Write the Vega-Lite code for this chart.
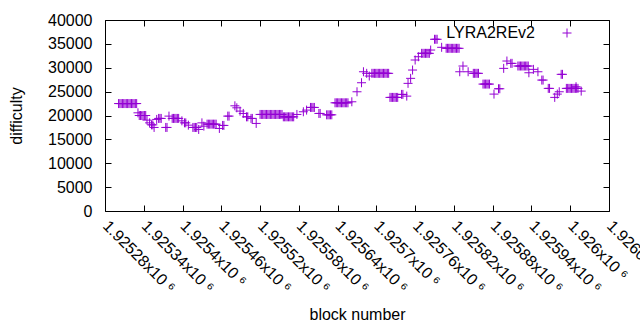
{
  "$schema": "https://vega.github.io/schema/vega-lite/v6.json",
  "width": 504,
  "height": 191,
  "autosize": {"type": "none"},
  "padding": {"left": 105, "top": 20, "right": 31, "bottom": 119},
  "background": "white",
  "config": {
    "font": "Liberation Sans",
    "view": {"stroke": "black", "strokeWidth": 1},
    "axis": {"grid": false, "domain": false, "tickColor": "black", "labelColor": "black", "titleColor": "black", "labelFontSize": 16, "titleFontSize": 16, "titleFontWeight": "normal", "labelFont": "Liberation Sans", "titleFont": "Liberation Sans", "tickSize": -6, "tickWidth": 1}
  },
  "data": {"values": [
    {"block": 1925301, "difficulty": 22500}, {"block": 1925303, "difficulty": 22500}, {"block": 1925305, "difficulty": 22500}, {"block": 1925307, "difficulty": 22500}, {"block": 1925309, "difficulty": 22500}, {"block": 1925311, "difficulty": 22500}, {"block": 1925313, "difficulty": 22500}, {"block": 1925315, "difficulty": 22500}, {"block": 1925317, "difficulty": 22500}, {"block": 1925319, "difficulty": 22500}, {"block": 1925321, "difficulty": 22500}, {"block": 1925323, "difficulty": 22500}, {"block": 1925325, "difficulty": 22500}, {"block": 1925327, "difficulty": 22500}, {"block": 1925329, "difficulty": 22500},
    {"block": 1925331, "difficulty": 20560},
    {"block": 1925333, "difficulty": 20000}, {"block": 1925335, "difficulty": 20000}, {"block": 1925337, "difficulty": 20000}, {"block": 1925339, "difficulty": 20000}, {"block": 1925341, "difficulty": 20000}, {"block": 1925343, "difficulty": 20000},
    {"block": 1925345, "difficulty": 19030},
    {"block": 1925349, "difficulty": 18460},
    {"block": 1925352, "difficulty": 18040}, {"block": 1925354, "difficulty": 18040},
    {"block": 1925356, "difficulty": 17500},
    {"block": 1925360, "difficulty": 19180},
    {"block": 1925363, "difficulty": 19390}, {"block": 1925365, "difficulty": 19390}, {"block": 1925367, "difficulty": 19390},
    {"block": 1925374, "difficulty": 17500}, {"block": 1925376, "difficulty": 17500},
    {"block": 1925379, "difficulty": 19870},
    {"block": 1925384, "difficulty": 19390}, {"block": 1925386, "difficulty": 19390}, {"block": 1925388, "difficulty": 19390}, {"block": 1925390, "difficulty": 19390}, {"block": 1925392, "difficulty": 19390}, {"block": 1925394, "difficulty": 19390},
    {"block": 1925399, "difficulty": 18880},
    {"block": 1925403, "difficulty": 18460}, {"block": 1925405, "difficulty": 18460},
    {"block": 1925409, "difficulty": 17980},
    {"block": 1925416, "difficulty": 17500}, {"block": 1925418, "difficulty": 17500}, {"block": 1925420, "difficulty": 17500}, {"block": 1925422, "difficulty": 17500},
    {"block": 1925425, "difficulty": 17080},
    {"block": 1925430, "difficulty": 18460},
    {"block": 1925433, "difficulty": 17770},
    {"block": 1925438, "difficulty": 18190}, {"block": 1925440, "difficulty": 18190}, {"block": 1925442, "difficulty": 18190}, {"block": 1925444, "difficulty": 18190}, {"block": 1925446, "difficulty": 18190}, {"block": 1925448, "difficulty": 18190}, {"block": 1925450, "difficulty": 18190}, {"block": 1925452, "difficulty": 18190},
    {"block": 1925457, "difficulty": 17290},
    {"block": 1925462, "difficulty": 17920}, {"block": 1925464, "difficulty": 17920},
    {"block": 1925470, "difficulty": 19870}, {"block": 1925472, "difficulty": 19870},
    {"block": 1925481, "difficulty": 22030},
    {"block": 1925484, "difficulty": 21610},
    {"block": 1925489, "difficulty": 20920},
    {"block": 1925494, "difficulty": 20430},
    {"block": 1925499, "difficulty": 19720}, {"block": 1925501, "difficulty": 19720},
    {"block": 1925506, "difficulty": 19390}, {"block": 1925508, "difficulty": 19390},
    {"block": 1925514, "difficulty": 18340},
    {"block": 1925520, "difficulty": 20220}, {"block": 1925522, "difficulty": 20220}, {"block": 1925524, "difficulty": 20220}, {"block": 1925526, "difficulty": 20220}, {"block": 1925528, "difficulty": 20220}, {"block": 1925530, "difficulty": 20220}, {"block": 1925532, "difficulty": 20220}, {"block": 1925534, "difficulty": 20220}, {"block": 1925536, "difficulty": 20220}, {"block": 1925538, "difficulty": 20220}, {"block": 1925540, "difficulty": 20220}, {"block": 1925542, "difficulty": 20220}, {"block": 1925544, "difficulty": 20220}, {"block": 1925546, "difficulty": 20220}, {"block": 1925548, "difficulty": 20220}, {"block": 1925550, "difficulty": 20220}, {"block": 1925552, "difficulty": 20220}, {"block": 1925554, "difficulty": 20220},
    {"block": 1925556, "difficulty": 19720}, {"block": 1925558, "difficulty": 19720}, {"block": 1925560, "difficulty": 19720}, {"block": 1925562, "difficulty": 19720}, {"block": 1925564, "difficulty": 19720}, {"block": 1925566, "difficulty": 19720}, {"block": 1925568, "difficulty": 19720}, {"block": 1925570, "difficulty": 19720}, {"block": 1925572, "difficulty": 19720},
    {"block": 1925577, "difficulty": 20220},
    {"block": 1925587, "difficulty": 20780},
    {"block": 1925592, "difficulty": 21130},
    {"block": 1925598, "difficulty": 21690}, {"block": 1925600, "difficulty": 21690}, {"block": 1925602, "difficulty": 21690}, {"block": 1925604, "difficulty": 21690},
    {"block": 1925611, "difficulty": 20430}, {"block": 1925613, "difficulty": 20430},
    {"block": 1925623, "difficulty": 20140}, {"block": 1925625, "difficulty": 20140}, {"block": 1925627, "difficulty": 20140}, {"block": 1925629, "difficulty": 20140}, {"block": 1925631, "difficulty": 20140},
    {"block": 1925636, "difficulty": 22660}, {"block": 1925638, "difficulty": 22660}, {"block": 1925640, "difficulty": 22660}, {"block": 1925642, "difficulty": 22660}, {"block": 1925644, "difficulty": 22660}, {"block": 1925646, "difficulty": 22660}, {"block": 1925648, "difficulty": 22660}, {"block": 1925650, "difficulty": 22660}, {"block": 1925652, "difficulty": 22660}, {"block": 1925654, "difficulty": 22660}, {"block": 1925656, "difficulty": 22660},
    {"block": 1925662, "difficulty": 22870},
    {"block": 1925670, "difficulty": 24970},
    {"block": 1925677, "difficulty": 26860},
    {"block": 1925680, "difficulty": 29160},
    {"block": 1925685, "difficulty": 28830},
    {"block": 1925689, "difficulty": 28260},
    {"block": 1925693, "difficulty": 28830}, {"block": 1925695, "difficulty": 28830}, {"block": 1925697, "difficulty": 28830}, {"block": 1925699, "difficulty": 28830}, {"block": 1925701, "difficulty": 28830}, {"block": 1925703, "difficulty": 28830}, {"block": 1925705, "difficulty": 28830}, {"block": 1925707, "difficulty": 28830}, {"block": 1925709, "difficulty": 28830}, {"block": 1925711, "difficulty": 28830}, {"block": 1925713, "difficulty": 28830}, {"block": 1925715, "difficulty": 28830}, {"block": 1925717, "difficulty": 28830}, {"block": 1925719, "difficulty": 28830},
    {"block": 1925721, "difficulty": 23790}, {"block": 1925723, "difficulty": 23790}, {"block": 1925725, "difficulty": 23790}, {"block": 1925727, "difficulty": 23790}, {"block": 1925729, "difficulty": 23790}, {"block": 1925731, "difficulty": 23790}, {"block": 1925733, "difficulty": 23790},
    {"block": 1925739, "difficulty": 24420}, {"block": 1925741, "difficulty": 24420},
    {"block": 1925747, "difficulty": 24060},
    {"block": 1925749, "difficulty": 26730},
    {"block": 1925753, "difficulty": 27780},
    {"block": 1925756, "difficulty": 29520},
    {"block": 1925760, "difficulty": 31620},
    {"block": 1925765, "difficulty": 32310},
    {"block": 1925770, "difficulty": 33020}, {"block": 1925772, "difficulty": 33020}, {"block": 1925774, "difficulty": 33020}, {"block": 1925776, "difficulty": 33020}, {"block": 1925778, "difficulty": 33020}, {"block": 1925780, "difficulty": 33020}, {"block": 1925782, "difficulty": 33020},
    {"block": 1925784, "difficulty": 33710},
    {"block": 1925790, "difficulty": 35960}, {"block": 1925792, "difficulty": 35960}, {"block": 1925794, "difficulty": 35960},
    {"block": 1925801, "difficulty": 34280},
    {"block": 1925808, "difficulty": 34070}, {"block": 1925810, "difficulty": 34070}, {"block": 1925812, "difficulty": 34070}, {"block": 1925814, "difficulty": 34070}, {"block": 1925816, "difficulty": 34070}, {"block": 1925818, "difficulty": 34070}, {"block": 1925820, "difficulty": 34070}, {"block": 1925822, "difficulty": 34070}, {"block": 1925824, "difficulty": 34070}, {"block": 1925826, "difficulty": 34070}, {"block": 1925828, "difficulty": 34070},
    {"block": 1925829, "difficulty": 29160},
    {"block": 1925834, "difficulty": 30360},
    {"block": 1925842, "difficulty": 29160},
    {"block": 1925850, "difficulty": 28830}, {"block": 1925852, "difficulty": 28830}, {"block": 1925854, "difficulty": 28830}, {"block": 1925856, "difficulty": 28830}, {"block": 1925858, "difficulty": 28830},
    {"block": 1925865, "difficulty": 26580}, {"block": 1925867, "difficulty": 26580}, {"block": 1925869, "difficulty": 26580}, {"block": 1925871, "difficulty": 26580}, {"block": 1925873, "difficulty": 26580}, {"block": 1925875, "difficulty": 26580},
    {"block": 1925882, "difficulty": 24480},
    {"block": 1925889, "difficulty": 25600}, {"block": 1925891, "difficulty": 25600},
    {"block": 1925897, "difficulty": 29870},
    {"block": 1925902, "difficulty": 31410},
    {"block": 1925908, "difficulty": 30920}, {"block": 1925910, "difficulty": 30920},
    {"block": 1925919, "difficulty": 30360}, {"block": 1925921, "difficulty": 30360}, {"block": 1925923, "difficulty": 30360}, {"block": 1925925, "difficulty": 30360}, {"block": 1925927, "difficulty": 30360}, {"block": 1925929, "difficulty": 30360}, {"block": 1925931, "difficulty": 30360}, {"block": 1925933, "difficulty": 30360}, {"block": 1925935, "difficulty": 30360},
    {"block": 1925936, "difficulty": 28950},
    {"block": 1925943, "difficulty": 29660},
    {"block": 1925950, "difficulty": 29160},
    {"block": 1925956, "difficulty": 27420}, {"block": 1925958, "difficulty": 27420},
    {"block": 1925966, "difficulty": 25680}, {"block": 1925968, "difficulty": 25680},
    {"block": 1925976, "difficulty": 23790},
    {"block": 1925980, "difficulty": 24480},
    {"block": 1925983, "difficulty": 24970},
    {"block": 1925986, "difficulty": 28620}, {"block": 1925988, "difficulty": 28620},
    {"block": 1925994, "difficulty": 25680}, {"block": 1925996, "difficulty": 25680}, {"block": 1925998, "difficulty": 25680}, {"block": 1926000, "difficulty": 25680}, {"block": 1926002, "difficulty": 25680}, {"block": 1926004, "difficulty": 25680}, {"block": 1926006, "difficulty": 25680}, {"block": 1926008, "difficulty": 25680}, {"block": 1926010, "difficulty": 25680}, {"block": 1926012, "difficulty": 25680},
    {"block": 1926009, "difficulty": 26020},
    {"block": 1926017, "difficulty": 25110}
  ]},
  "resolve": {"axis": {"x": "independent", "y": "independent"}},
  "layer": [
    {
      "mark": {"type": "point", "shape": "M-1,0L1,0M0,-1L0,1", "filled": false, "strokeWidth": 1, "size": 81, "opacity": 1},
      "encoding": {
        "x": {"field": "block", "type": "quantitative", "scale": {"domain": [1925280, 1926060], "nice": false, "zero": false},
          "axis": {"orient": "bottom", "title": "block number", "values": [1925280, 1925340, 1925400, 1925460, 1925520, 1925580, 1925640, 1925700, 1925760, 1925820, 1925880, 1925940, 1926000, 1926060],
            "labelExpr": "format(datum.value / 1000000, '.6~g') + 'x10 ⁶'", "labelAngle": 45, "labelAlign": "left", "labelBaseline": "middle", "labelPadding": 18, "labelOverlap": false, "labelBound": false, "labelFlush": false, "titleY": 103, "titleBaseline": "middle"}},
        "y": {"field": "difficulty", "type": "quantitative", "scale": {"domain": [0, 40000], "nice": false},
          "axis": {"orient": "left", "title": "difficulty", "values": [0, 5000, 10000, 15000, 20000, 25000, 30000, 35000, 40000], "format": "d", "labelPadding": 19, "titleX": -81}},
        "color": {"datum": "LYRA2REv2", "scale": {"range": ["#9400d3"]},
          "legend": {"title": null, "orient": "none", "legendX": 454, "legendY": 5, "padding": 0, "labelFontSize": 16, "labelFont": "Liberation Sans", "labelColor": "#000000", "labelAlign": "right", "labelOffset": -40, "symbolStrokeWidth": 1, "symbolSize": 81}}
      }
    },
    {
      "mark": {"type": "point", "opacity": 0},
      "encoding": {
        "x": {"field": "block", "type": "quantitative", "scale": {"domain": [1925280, 1926060], "nice": false, "zero": false},
          "axis": {"orient": "top", "title": null, "labels": false, "values": [1925280, 1925340, 1925400, 1925460, 1925520, 1925580, 1925640, 1925700, 1925760, 1925820, 1925880, 1925940, 1926000, 1926060]}},
        "y": {"field": "difficulty", "type": "quantitative", "scale": {"domain": [0, 40000], "nice": false},
          "axis": {"orient": "right", "title": null, "labels": false, "values": [0, 5000, 10000, 15000, 20000, 25000, 30000, 35000, 40000]}}
      }
    }
  ]
}
